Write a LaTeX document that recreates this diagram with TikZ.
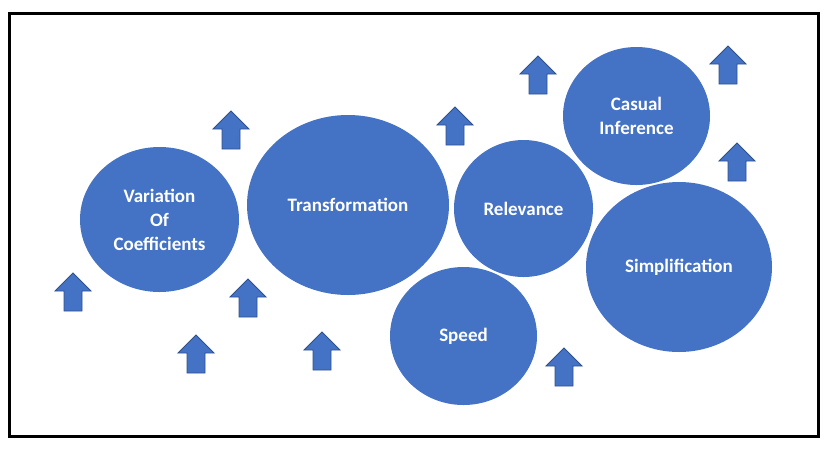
\documentclass[tikz,border=0pt]{standalone}
\usepackage{fontspec}
\setmainfont{Carlito}
\usetikzlibrary{shapes.geometric}
\definecolor{obl}{HTML}{4472C4}
\definecolor{obd}{HTML}{2F528F}
\tikzset{
  bub/.style={ellipse, fill=obl, draw=none, inner sep=0pt, text=white,
    font=\fontsize{19}{24}\selectfont\bfseries, align=center},
  uparrow/.pic={\path[fill=obl, draw=obd, line width=0.8pt, line join=miter]
    (0,0) -- (18,18) -- (9,18) -- (9,38) -- (-9,38) -- (-9,18) -- (-18,18) -- cycle;}
}
\begin{document}
\begin{tikzpicture}[x=1pt,y=-1pt]
\useasboundingbox (0,0) rectangle (835,448);
\draw[line width=3pt] (9.5,13.5) rectangle (818.5,436.5);
\node[bub, minimum width=159pt, minimum height=145pt] (var) at (159.5,219.5) {Variation\\Of\\Coefficients};
\node[bub, minimum width=202pt, minimum height=180pt] (tra) at (348,205) {Transformation};
\node[bub, minimum width=139pt, minimum height=137pt] (rel) at (523.5,208.5) {Relevance};
\node[bub, minimum width=147pt, minimum height=138pt] (spd) at (463.5,336) {Speed};
\node[bub, minimum width=147pt, minimum height=138pt] (cas) at (636.5,116) {Casual\\Inference};
\node[bub, minimum width=186pt, minimum height=170pt] (sim) at (679,267) {Simplification};
\pic at (231,111) {uparrow};
\pic at (73,273) {uparrow};
\pic at (196,335) {uparrow};
\pic at (248,279) {uparrow};
\pic at (322,332) {uparrow};
\pic at (455,107) {uparrow};
\pic at (538,56) {uparrow};
\pic at (728,46) {uparrow};
\pic at (737,143) {uparrow};
\pic at (564,348) {uparrow};
\end{tikzpicture}
\end{document}
